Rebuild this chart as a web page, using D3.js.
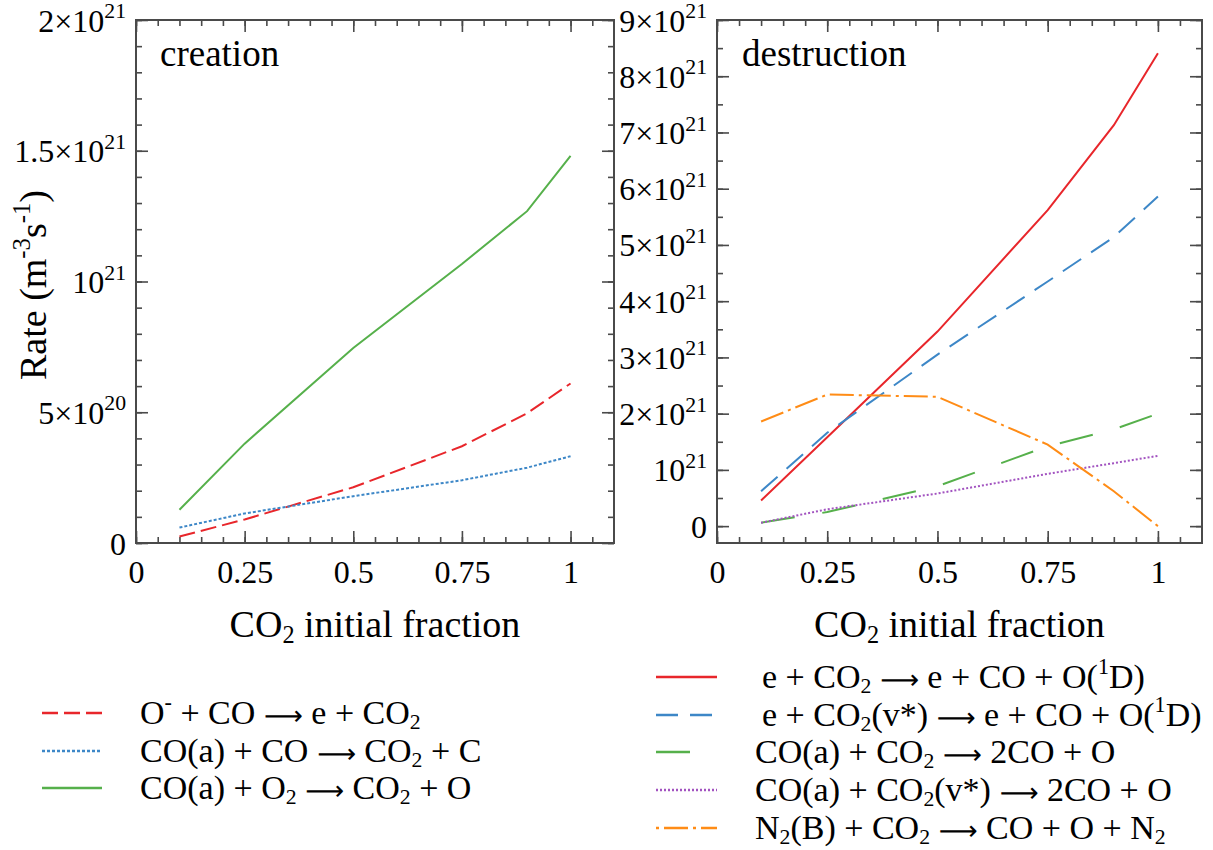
<!DOCTYPE html>
<html>
<head>
<meta charset="utf-8">
<script src="https://cdn.jsdelivr.net/npm/d3@7"></script>
<style>
  html, body { margin: 0; padding: 0; background: #fff; }
  svg { display: block; }
  text { font-family: "Liberation Serif", "Times New Roman", serif; fill: #000; white-space: pre; }
</style>
</head>
<body>
<svg id="chart" width="1213" height="850"></svg>
<script>
// ---------- data ----------
const fractions = [0.1, 0.25, 0.5, 0.75, 0.9, 1.0];

// creation (m^-3 s^-1)
const creationOminusCO = [0.025e21, 0.09e21, 0.213e21, 0.37e21, 0.496e21, 0.61e21];
const creationCOaCO    = [0.059e21, 0.113e21, 0.179e21, 0.24e21, 0.288e21, 0.332e21];
const creationCOaO2    = [0.127e21, 0.38e21, 0.746e21, 1.067e21, 1.269e21, 1.48e21];

// destruction (m^-3 s^-1)
const destructionECO2   = [0.457e21, 1.58e21, 3.46e21, 5.62e21, 7.13e21, 8.41e21];
const destructionECO2v  = [0.62e21, 1.66e21, 3.05e21, 4.35e21, 5.14e21, 5.86e21];
const destructionCOaCO2 = [0.06e21, 0.25e21, 0.71e21, 1.42e21, 1.72e21, 2.0e21];
const destructionCOaCO2v= [0.06e21, 0.30e21, 0.58e21, 0.93e21, 1.12e21, 1.25e21];
const destructionN2B    = [1.86e21, 2.34e21, 2.30e21, 1.45e21, 0.62e21, 0.0];

const creationLabels = [
  "O^{-} + CO \u2192 e + CO_{2}",
  "CO(a) + CO \u2192 CO_{2} + C",
  "CO(a) + O_{2} \u2192 CO_{2} + O"
];
const destructionLabels = [
  "e + CO_{2} \u2192 e + CO + O(^{1}D)",
  "e + CO_{2}(v*) \u2192 e + CO + O(^{1}D)",
  "CO(a) + CO_{2} \u2192 2CO + O",
  "CO(a) + CO_{2}(v*) \u2192 2CO + O",
  "N_{2}(B) + CO_{2} \u2192 CO + O + N_{2}"
];

const xTickValues = [0, 0.25, 0.5, 0.75, 1];
const xTickLabels = ["0", "0.25", "0.5", "0.75", "1"];
const leftYTickValues = [0, 0.5e21, 1e21, 1.5e21, 2e21];
const leftYTickLabels = ["0", "5\u00d710^{20}", "10^{21}", "1.5\u00d710^{21}", "2\u00d710^{21}"];
const rightYTickValues = [0, 1e21, 2e21, 3e21, 4e21, 5e21, 6e21, 7e21, 8e21, 9e21];
const rightYTickLabels = ["0", "10^{21}", "2\u00d710^{21}", "3\u00d710^{21}", "4\u00d710^{21}", "5\u00d710^{21}",
                          "6\u00d710^{21}", "7\u00d710^{21}", "8\u00d710^{21}", "9\u00d710^{21}"];

// ---------- styles ----------
const C = { red: "#e8262b", blue: "#3d87c7", green: "#56b04b", purple: "#a253c0", orange: "#ff8c16" };
const creationStyles = [
  { color: C.red,   dash: "16,6" },
  { color: C.blue,  dash: "3,2" },
  { color: C.green, dash: null }
];
const destructionStyles = [
  { color: C.red,    dash: null },
  { color: C.blue,   dash: "22,12" },
  { color: C.green,  dash: "34,28" },
  { color: C.purple, dash: "2,2" },
  { color: C.orange, dash: "24,5,3,5", legendOffset: 29 }
];

const svg = d3.select("#chart");
const TOP = 20, BOTTOM = 543;

// rich text: ^{sup}, _{sub}; the arrow is drawn with a long thin arrow glyph
function rich(textSel, str, fs, supScale) {
  supScale = supScale || 0.65;
  const parts = [];
  const re = /(\^\{[^}]*\}|_\{[^}]*\}|\u2192)/g;
  let last = 0, m;
  while ((m = re.exec(str)) !== null) {
    if (m.index > last) parts.push({ t: str.slice(last, m.index), k: "n" });
    if (m[0] === "\u2192") parts.push({ t: "\u27F6", k: "arrow" });
    else parts.push({ t: m[0].slice(2, -1), k: m[0][0] === "^" ? "sup" : "sub" });
    last = re.lastIndex;
  }
  if (last < str.length) parts.push({ t: str.slice(last), k: "n" });
  let offset = 0;
  parts.forEach(p => {
    const ts = textSel.append("tspan").text(p.t);
    let target = 0;
    if (p.k === "sup") { target = -0.42 * fs; ts.attr("font-size", supScale * fs); }
    else if (p.k === "sub") { target = 0.15 * fs; ts.attr("font-size", 0.64 * fs); }
    else if (p.k === "arrow") {
      target = 0.02 * fs;
      ts.attr("font-family", "'DejaVu Sans', 'DejaVu Serif', sans-serif").attr("font-size", 0.8 * fs);
    }
    const dy = target - offset;
    if (dy !== 0) ts.attr("dy", dy);
    offset = target;
  });
}

function panel(opts) {
  const x = d3.scaleLinear().domain([0, 1.1]).range([opts.left, opts.right]);
  const y = d3.scaleLinear().domain(opts.yDomain).range([BOTTOM, TOP]);
  const g = svg.append("g");

  const tickStroke = (sel) => { sel.select(".domain").remove(); sel.selectAll("line").attr("stroke", "#4a4a4a").attr("stroke-width", 1.6); };

  const xMinor = d3.range(0, 22).map(i => i * 0.05).filter(v => v <= 1.06);
  g.append("g").attr("transform", `translate(0,${BOTTOM})`)
    .call(d3.axisBottom(x).tickValues(xMinor).tickSize(-6).tickSizeOuter(0).tickFormat("")).call(tickStroke);
  g.append("g").attr("transform", `translate(0,${TOP})`)
    .call(d3.axisTop(x).tickValues(xMinor).tickSize(-6).tickSizeOuter(0).tickFormat("")).call(tickStroke);
  const xb = g.append("g").attr("transform", `translate(0,${BOTTOM})`)
    .call(d3.axisBottom(x).tickValues(xTickValues).tickSize(-12).tickSizeOuter(0)
      .tickFormat((d, i) => xTickLabels[i])).call(tickStroke);
  xb.selectAll("text").attr("y", 40).attr("dy", null).attr("font-size", 32)
    .attr("font-family", "Liberation Serif").attr("fill", "#000");
  g.append("g").attr("transform", `translate(0,${TOP})`)
    .call(d3.axisTop(x).tickValues(xTickValues).tickSize(-12).tickSizeOuter(0).tickFormat("")).call(tickStroke);

  g.append("g").attr("transform", `translate(${opts.left},0)`)
    .call(d3.axisLeft(y).tickValues(opts.yMinor).tickSize(-6).tickSizeOuter(0).tickFormat("")).call(tickStroke);
  g.append("g").attr("transform", `translate(${opts.right},0)`)
    .call(d3.axisRight(y).tickValues(opts.yMinor).tickSize(-6).tickSizeOuter(0).tickFormat("")).call(tickStroke);
  const yl = g.append("g").attr("transform", `translate(${opts.left},0)`)
    .call(d3.axisLeft(y).tickValues(opts.yTicks).tickSize(-12).tickSizeOuter(0).tickFormat("")).call(tickStroke);
  g.append("g").attr("transform", `translate(${opts.right},0)`)
    .call(d3.axisRight(y).tickValues(opts.yTicks).tickSize(-12).tickSizeOuter(0).tickFormat("")).call(tickStroke);
  yl.selectAll(".tick").each(function (d, i) {
    const t = d3.select(this).append("text")
      .attr("x", -10).attr("y", 11).attr("text-anchor", "end")
      .attr("font-size", 32);
    rich(t, opts.yLabels[i], 32, 0.68);
  });

  g.append("rect").attr("x", opts.left).attr("y", TOP)
    .attr("width", opts.right - opts.left).attr("height", BOTTOM - TOP)
    .attr("fill", "none").attr("stroke", "#4a4a4a").attr("stroke-width", 2);

  const line = d3.line().x((d, i) => x(fractions[i])).y(d => y(d));
  opts.series.forEach((s, i) => {
    const st = opts.styles[i];
    g.append("path").datum(s).attr("d", line)
      .attr("fill", "none").attr("stroke", st.color).attr("stroke-width", 2)
      .attr("stroke-dasharray", st.dash);
  });

  g.append("text").attr("x", opts.titleX).attr("y", 66).attr("font-size", 37).text(opts.title);

  const xt = g.append("text").attr("x", (opts.left + opts.right) / 2).attr("y", 637)
    .attr("text-anchor", "middle").attr("font-size", 38);
  rich(xt, "CO_{2} initial fraction", 38);
  return { x, y };
}

panel({
  left: 136, right: 614, yDomain: [0, 2e21],
  yMinor: d3.range(0, 21).map(i => i * 1e20),
  yTicks: leftYTickValues, yLabels: leftYTickLabels,
  series: [creationOminusCO, creationCOaCO, creationCOaO2], styles: creationStyles,
  title: "creation", titleX: 160
});
panel({
  left: 717, right: 1202, yDomain: [-0.3e21, 9e21],
  yMinor: d3.range(0, 19).map(i => i * 0.5e21),
  yTicks: rightYTickValues, yLabels: rightYTickLabels,
  series: [destructionECO2, destructionECO2v, destructionCOaCO2, destructionCOaCO2v, destructionN2B],
  styles: destructionStyles,
  title: "destruction", titleX: 742
});

const yt = svg.append("text").attr("transform", "translate(46,285) rotate(-90)")
  .attr("text-anchor", "middle").attr("font-size", 38);
rich(yt, "Rate (m^{-3}s^{-1})", 38);

function legend(labels, styles, x1, x2, textXs, rows, fs) {
  const g = svg.append("g");
  labels.forEach((lab, i) => {
    const st = styles[i];
    g.append("line").attr("x1", x1).attr("x2", x2).attr("y1", rows[i]).attr("y2", rows[i])
      .attr("stroke", st.color).attr("stroke-width", 2.4).attr("stroke-dasharray", st.dash)
      .attr("stroke-dashoffset", st.legendOffset || 0);
    const t = g.append("text").attr("x", textXs[i]).attr("y", rows[i] + 11).attr("font-size", fs);
    rich(t, lab, fs);
  });
}
legend(creationLabels, creationStyles, 42, 102, [140, 140, 140], [713, 751, 788], 34);
legend(destructionLabels, destructionStyles, 656, 717, [762, 762, 755, 755, 755], [677, 715, 752, 790, 828], 34);
</script>
</body>
</html>
